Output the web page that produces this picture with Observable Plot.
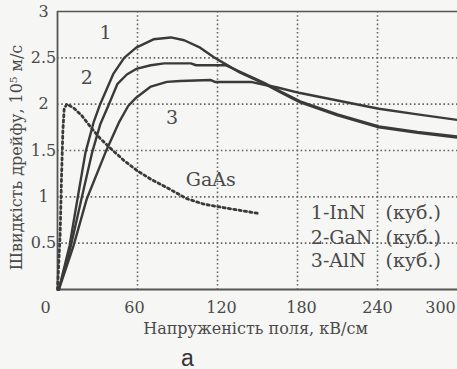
<!DOCTYPE html>
<html><head><meta charset="utf-8">
<script src="https://cdn.jsdelivr.net/npm/d3@7"></script>
<script src="https://cdn.jsdelivr.net/npm/@observablehq/plot@0.6"></script>
<style>
html,body{margin:0;padding:0;background:#f6f6f4;}
#chart{width:457px;height:369px;overflow:hidden;}
</style>
</head><body><div id="chart"></div>
<script>
// Field (kV/cm) and drift velocity (10^5 m/s)
const inN = [[1,0],[9,0.47],[15,0.98],[21,1.48],[27,1.8],[32,2.0],[42,2.33],[50,2.5],[59,2.61],[72,2.7],[85,2.72],[95,2.69],[107,2.61],[117,2.51],[125,2.44],[137,2.34],[155,2.22],[167,2.13],[182,2.02],[210,1.88],[241,1.75],[270,1.69],[300,1.64]];
const gaN = [[1,0],[10,0.47],[18,0.98],[26,1.48],[32,1.78],[38,1.98],[45,2.22],[52,2.32],[59,2.38],[70,2.42],[80,2.44],[100,2.44],[104,2.42],[118,2.42],[126,2.42],[137,2.35],[155,2.23],[167,2.14],[182,2.03],[210,1.89],[241,1.76],[270,1.7],[300,1.65]];
const alN = [[1,0],[12,0.47],[22,0.98],[36,1.48],[46,1.8],[53,1.98],[59,2.07],[70,2.19],[82,2.24],[92,2.25],[115,2.26],[118,2.24],[145,2.24],[155,2.21],[165,2.18],[182,2.12],[210,2.04],[241,1.95],[270,1.89],[300,1.83]];
const gaAs = [[0,0],[2,0.6],[3,1.2],[4,1.7],[5,1.95],[7,2.0],[12,1.96],[18,1.88],[25,1.75],[32,1.63],[40,1.52],[50,1.39],[60,1.28],[70,1.19],[82,1.1],[97,0.98],[110,0.92],[130,0.87],[151,0.82]];

const xTicks = [0,60,120,180,240,300];
const yTicks = [0.5,1,1.5,2,2.5,3];
const gridXTicks = [60,120,180,240];
const gridYTicks = [0.5,1,1.5,2,2.5];

const curveLabels = [{x:36,y:2.77,t:"1"},{x:22,y:2.28,t:"2"},{x:86,y:1.85,t:"3"},{x:115,y:1.18,t:"GaAs"}];
const legendNames = ["1-InN","2-GaN","3-AlN"];
const legendUnit = "(куб.)";
const legendY = [0.83,0.56,0.31];

const xTitle = "Напруженість поля, кВ/см";
const yTitle = "Швидкість дрейфу, 10⁵ м/с";
const panel = "а";

const ink = "#3a3a3a";
const txt = "#4a4a4a";
const serif = "'DejaVu Serif', serif";

const series = [
  ...inN.map(d=>({s:"InN",x:d[0],y:d[1]})),
  ...gaN.map(d=>({s:"GaN",x:d[0],y:d[1]})),
  ...alN.map(d=>({s:"AlN",x:d[0],y:d[1]}))
];
const gaAsData = gaAs.map(d=>({x:d[0],y:d[1]}));
const legend = legendNames.map((n,i)=>({n, y:legendY[i]}));

const axisCommon = {tickSize:0, fontSize:16, fontFamily:serif, fill:txt, label:null, tickFormat:d=>String(d)};
const gridStyle = {stroke:"#666", strokeOpacity:1, strokeWidth:1.6, strokeDasharray:"1.6 2.6"};

const chart = Plot.plot({
  width:457, height:369,
  marginLeft:57, marginRight:0, marginTop:11, marginBottom:80,
  style:{background:"transparent", fontFamily:serif, color:txt},
  x:{domain:[0,300]},
  y:{domain:[0,3]},
  marks:[
    Plot.gridX({ticks:gridXTicks, ...gridStyle}),
    Plot.gridY({ticks:gridYTicks, ...gridStyle}),
    Plot.ruleY([3],{stroke:"#555",strokeWidth:1.5}),
    Plot.ruleX([0],{stroke:"#555",strokeWidth:1.8}),
    Plot.ruleY([0],{stroke:"#555",strokeWidth:1.8}),
    Plot.line(gaAsData,{x:"x",y:"y",stroke:ink,strokeWidth:2.8,strokeDasharray:"2.2 3.2"}),
    Plot.line(series,{x:"x",y:"y",z:"s",stroke:ink,strokeWidth:2.4}),
    Plot.text(curveLabels,{x:"x",y:"y",text:"t",fontSize:19,fill:txt,fontFamily:serif}),
    Plot.text(legend,{x:190,y:"y",text:"n",textAnchor:"start",fontSize:19,fill:txt,fontFamily:serif}),
    Plot.text(legend,{x:246,y:"y",text:()=>legendUnit,textAnchor:"start",fontSize:19,fill:txt,fontFamily:serif}),
    Plot.axisY({...axisCommon, ticks:yTicks, textAnchor:"middle", tickPadding:14}),
    Plot.axisX({...axisCommon, ticks:[0], tickPadding:12, dx:-12}),
    Plot.axisX({...axisCommon, ticks:[60], tickPadding:12, dx:-3}),
    Plot.axisX({...axisCommon, ticks:[120,180], tickPadding:12, dx:4}),
    Plot.axisX({...axisCommon, ticks:[240], tickPadding:12, dx:0}),
    Plot.axisX({...axisCommon, ticks:[300], tickPadding:12, dx:-17}),
    Plot.text([xTitle],{frameAnchor:"bottom",dy:44,dx:-2,text:d=>d,fontSize:16,fill:txt,fontFamily:serif}),
    Plot.text([yTitle],{frameAnchor:"left",textAnchor:"middle",rotate:-90,dx:-41,dy:7,text:d=>d,fontSize:16,fill:txt,fontFamily:serif}),
    Plot.text([panel],{frameAnchor:"bottom",dy:76,dx:-70,text:d=>d,fontSize:23,fill:"#333",fontFamily:"'Liberation Sans', Arial, sans-serif"})
  ]
});
document.getElementById("chart").appendChild(chart);
</script>
</body></html>
